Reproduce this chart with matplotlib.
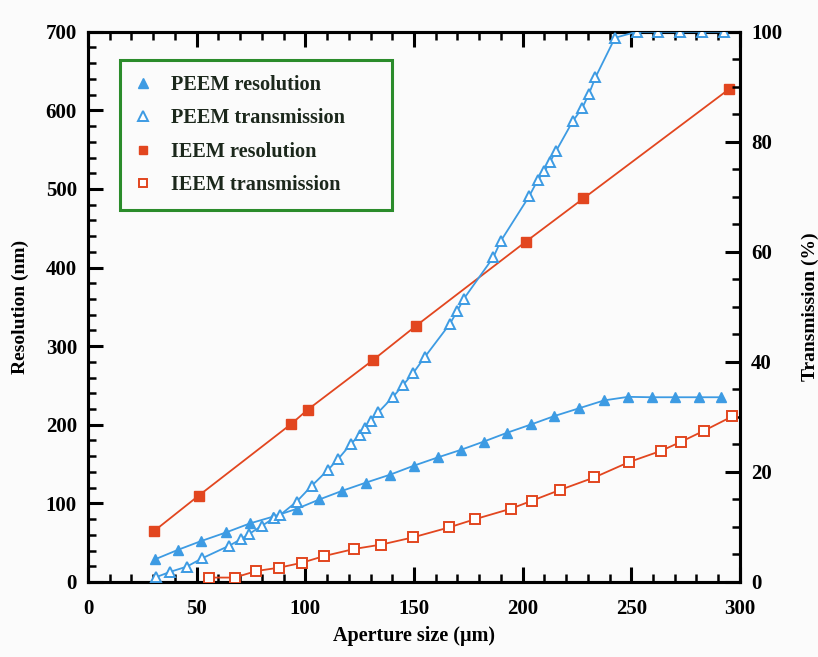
import matplotlib
matplotlib.use("Agg")
import matplotlib.pyplot as plt
from matplotlib.lines import Line2D
from matplotlib.ticker import MultipleLocator

plt.rcParams['font.family'] = ['Liberation Serif', 'DejaVu Serif']
plt.rcParams['font.weight'] = 'bold'

BLUE = '#3d9be3'
RED = '#e2461f'

# PEEM resolution (nm) vs aperture size (um)
peem_res_x = [31, 41.5, 52, 63.5, 74.5, 85, 96, 106.5, 117, 128, 139, 150, 161,
              171.5, 182, 193, 204, 214.5, 226, 237.5, 248.5, 259.5, 270, 281, 291.5]
peem_res_y = [29, 41, 52, 63, 74.5, 83, 93, 105, 116, 126.5, 136.5, 148, 158.5,
              168, 178.5, 190, 200.5, 211, 221, 231, 235.5, 235, 235, 235, 235]

# PEEM transmission (%)
peem_tr_x = [31.5, 37.5, 45.5, 52.5, 65, 70.5, 74, 80, 85.5, 88.5, 96, 103, 110.5,
             115, 121, 125, 127.5, 130, 133.5, 140.5, 145, 149.5, 155, 166.5, 170,
             173, 186.5, 190, 203, 207, 210, 212.5, 215.5, 223, 227.5, 230.5, 233.5,
             242.5, 252.5, 262.5, 272.5, 282.5, 292.5]
peem_tr_y = [0.9, 1.8, 2.8, 4.3, 6.6, 7.8, 8.7, 10.2, 11.6, 12.2, 14.6, 17.5, 20.4,
             22.3, 25.1, 26.7, 28.0, 29.3, 30.8, 33.7, 35.8, 37.9, 40.9, 46.9, 49.3,
             51.5, 59.0, 62.0, 70.1, 73.1, 74.6, 76.3, 78.4, 83.7, 86.2, 88.7, 91.7,
             98.9, 100, 100, 100, 100, 100]

# IEEM resolution (nm)
ieem_res_x = [30.5, 51, 93.5, 101, 131, 151, 201.5, 228, 295]
ieem_res_y = [65, 110, 201, 219, 282, 326, 433, 488, 627]

# IEEM transmission (%)
ieem_tr_x = [55.5, 67.5, 77.5, 88, 98.5, 108.5, 122.5, 135, 149.5, 166, 178, 194.5,
             204.5, 217, 233, 249, 263.5, 273, 283.5, 296.5]
ieem_tr_y = [0.8, 0.8, 2.0, 2.6, 3.5, 4.7, 6.0, 6.8, 8.1, 9.9, 11.4, 13.3, 14.8,
             16.7, 19.0, 21.8, 23.8, 25.5, 27.5, 30.1]

fig = plt.figure(figsize=(8.18, 6.57), dpi=100, facecolor='#fbfbfb')
ax = fig.add_axes([0.1076, 0.1142, 0.7970, 0.8375])
ax.set_facecolor('#fbfbfb')
ax2 = ax.twinx()

lw = 1.3
ms = 7
ax.plot(peem_res_x, peem_res_y, color=BLUE, lw=lw, marker='^', ms=ms,
        mfc=BLUE, mec=BLUE, zorder=3)
ax.plot(ieem_res_x, ieem_res_y, color=RED, lw=lw, marker='s', ms=ms,
        mfc=RED, mec=RED, zorder=3)
ax2.plot(peem_tr_x, peem_tr_y, color=BLUE, lw=lw, marker='^', ms=ms,
         mfc='white', mec=BLUE, mew=1.4, zorder=3)
ax2.plot(ieem_tr_x, ieem_tr_y, color=RED, lw=lw, marker='s', ms=ms,
         mfc='white', mec=RED, mew=1.4, zorder=3)

ax.set_xlim(0, 300)
ax.set_ylim(0, 700)
ax2.set_ylim(0, 100)

ax.xaxis.set_major_locator(MultipleLocator(50))
ax.xaxis.set_minor_locator(MultipleLocator(10))
ax.yaxis.set_major_locator(MultipleLocator(100))
ax.yaxis.set_minor_locator(MultipleLocator(20))
ax2.yaxis.set_major_locator(MultipleLocator(20))
ax2.yaxis.set_minor_locator(MultipleLocator(5))

for a in (ax, ax2):
    for s in a.spines.values():
        s.set_linewidth(2.2)
    a.tick_params(which='major', direction='in', length=11, width=2.2,
                  labelsize=15, pad=8)
    a.tick_params(which='minor', direction='in', length=6, width=1.8)
ax.tick_params(axis='x', which='both', top=True)
ax.tick_params(axis='x', which='major', pad=12)
ax.tick_params(axis='y', which='both', right=False)

ax.set_xlabel('Aperture size (μm)', fontsize=14.5, fontweight='bold', labelpad=5)
ax.set_ylabel('Resolution (nm)', fontsize=14, fontweight='bold', labelpad=12)
ax2.set_ylabel('Transmission (%)', fontsize=14, fontweight='bold', labelpad=14)

handles = [
    Line2D([], [], ls='none', marker='^', ms=ms, mfc=BLUE, mec=BLUE),
    Line2D([], [], ls='none', marker='^', ms=ms, mfc='white', mec=BLUE, mew=1.4),
    Line2D([], [], ls='none', marker='s', ms=ms - 1, mfc=RED, mec=RED),
    Line2D([], [], ls='none', marker='s', ms=ms - 1, mfc='white', mec=RED, mew=1.4),
]
labels = ['PEEM resolution', 'PEEM transmission', 'IEEM resolution', 'IEEM transmission']
leg_w, leg_h = 0.417, 0.282
leg = ax2.legend(handles, labels, loc='upper left',
                 bbox_to_anchor=(0.049, 0.9485 - leg_h, leg_w, leg_h),
                 bbox_transform=ax.transAxes, mode='expand', borderaxespad=0,
                 frameon=True, fancybox=False, edgecolor='#2b8c2b',
                 facecolor='#fbfbfb', framealpha=1,
                 prop={'size': 14.6, 'weight': 'bold'},
                 handlelength=0.8, handletextpad=1.0, labelspacing=0.67,
                 borderpad=0.72)
leg.get_frame().set_linewidth(2.2)
for t in leg.get_texts():
    t.set_color('#1c281c')

fig.savefig('out.png', dpi=100, facecolor=fig.get_facecolor())
